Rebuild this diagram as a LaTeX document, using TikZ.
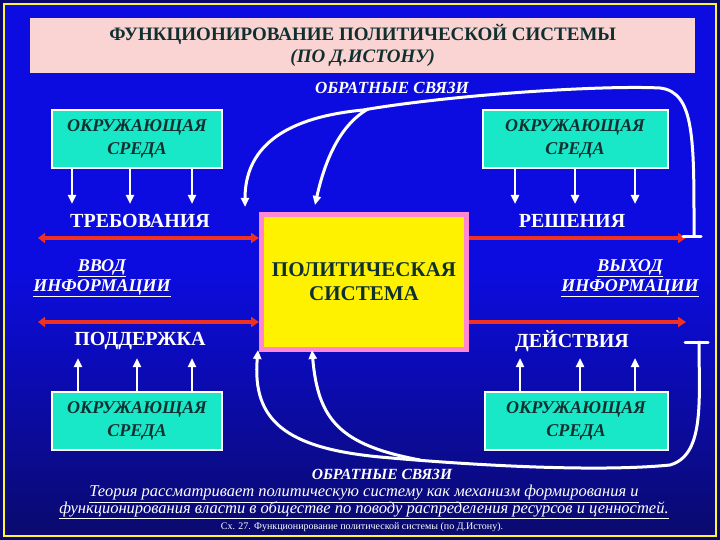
\documentclass[tikz,border=0pt]{standalone}
\usepackage{fontspec}
\setmainfont{Liberation Serif}
\usetikzlibrary{arrows.meta}
\definecolor{navy}{HTML}{0A0A6E}
\definecolor{mblue}{HTML}{0C0CE0}
\definecolor{pinkbg}{HTML}{FAD3D3}
\definecolor{cyanbox}{HTML}{19E8C8}
\definecolor{redl}{HTML}{F03020}
\definecolor{dtext}{HTML}{103030}
\begin{document}
\begin{tikzpicture}[x=1pt,y=-1pt,
 envbox/.style={draw=white,line width=2pt,fill=cyanbox,minimum width=170pt,minimum height=58pt,align=center,font=\bfseries\itshape\fontsize{18}{23}\selectfont,text=dtext},
 wlab/.style={text=white,font=\bfseries\fontsize{20}{22}\selectfont},
 ulab/.style={text=white,font=\bfseries\itshape\fontsize{18}{20}\selectfont,align=center},
 warr/.style={white,line width=2.5pt,-{Triangle[length=9pt,width=8pt]}},
 rarr/.style={redl,line width=4pt,-{Triangle[length=8pt,width=10pt]}},
 fb/.style={white,line width=3pt,line cap=round},
 thl/.style={text=white,inner sep=0pt,font=\itshape\fontsize{16.5}{17}\selectfont}]
\useasboundingbox (0,0) rectangle (720,540);
\fill[navy] (0,0) rectangle (720,540);
\shade[top color=mblue,bottom color=navy,middle color=mblue] (5,5) rectangle (715,535);
\draw[yellow!80!white,line width=1.2pt] (4,4) rectangle (716,536);
% title
\node[fill=pinkbg,minimum width=665pt,minimum height=55pt,anchor=north west,inner sep=0pt,align=center,text=dtext,font=\bfseries\fontsize{19}{22}\selectfont] (title) at (30,18) {ФУНКЦИОНИРОВАНИЕ ПОЛИТИЧЕСКОЙ СИСТЕМЫ\\ \itshape (ПО Д.ИСТОНУ)};
\node[ulab,font=\bfseries\itshape\fontsize{17}{19}\selectfont] (fb1) at (392,88) {ОБРАТНЫЕ СВЯЗИ};
% env boxes
\node[envbox] (e1) at (137,139) {ОКРУЖАЮЩАЯ\\СРЕДА};
\node[envbox,minimum width=185pt] (e2) at (575,139) {ОКРУЖАЮЩАЯ\\СРЕДА};
\node[envbox] (e3) at (137,421) {ОКРУЖАЮЩАЯ\\СРЕДА};
\node[envbox,minimum width=183pt] (e4) at (576,421) {ОКРУЖАЮЩАЯ\\СРЕДА};
% system
\node[draw=pink!70!magenta,line width=5pt,fill=yellow,minimum width=205pt,minimum height=135pt,align=center,text=dtext,font=\bfseries\fontsize{21}{24}\selectfont] (sys) at (364,282) {ПОЛИТИЧЕСКАЯ\\СИСТЕМА};
% labels
\node[wlab] (treb) at (140,221) {ТРЕБОВАНИЯ};
\node[wlab] (resh) at (572,221) {РЕШЕНИЯ};
\node[wlab] (podd) at (140,341) {ПОДДЕРЖКА};
\node[wlab] (deist) at (572,341) {ДЕЙСТВИЯ};
\node[ulab] (vvod) at (102,278) {\underline{ВВОД}\\\underline{ИНФОРМАЦИИ}};
\node[ulab] (vyh) at (630,278) {\underline{ВЫХОД}\\\underline{ИНФОРМАЦИИ}};
% env arrows
\foreach \x/\n in {72/a,130/b,192/c}{\coordinate (t\n) at (\x,168); \coordinate (u\n) at (\x,204); \draw[warr] (t\n) -- (u\n);}
\foreach \x/\n in {515/a,575/b,635/c}{\coordinate (t\n) at (\x,168); \coordinate (u\n) at (\x,204); \draw[warr] (t\n) -- (u\n);}
\foreach \x/\n in {78/a,137/b,192/c}{\coordinate (t\n) at (\x,392); \coordinate (u\n) at (\x,358); \draw[warr] (t\n) -- (u\n);}
\foreach \x/\n in {520/a,580/b,635/c}{\coordinate (t\n) at (\x,392); \coordinate (u\n) at (\x,358); \draw[warr] (t\n) -- (u\n);}
% red arrows
\coordinate (l1) at (38,238); \coordinate (l2) at (38,322);
\coordinate (r1) at (686,238); \coordinate (r2) at (686,322);
\draw[rarr,{Triangle[length=7pt,width=10pt]}-{Triangle[length=8pt,width=10pt]}] (l1) -- (sys.west|-l1);
\draw[rarr,{Triangle[length=7pt,width=10pt]}-{Triangle[length=8pt,width=10pt]}] (l2) -- (sys.west|-l2);
\draw[rarr] (sys.east|-r1) -- (r1);
\draw[rarr] (sys.east|-r2) -- (r2);
% ticks
\coordinate (k1) at (683,236); \coordinate (k2) at (701,236);
\coordinate (k3) at (685,342); \coordinate (k4) at (708,342);
\draw[fb] (k1) -- (k2); \draw[fb] (k3) -- (k4);
% feedback curves top
\coordinate (f1) at (245,207); \coordinate (f2) at (315,205);
\draw[fb,{Triangle[length=9pt,width=8pt]}-] (f1) .. controls (245,150) and (280,118) .. (363,110) .. controls (450,95) and (600,85) .. (660,88) .. controls (695,92) and (694,140) .. (694,236);
\draw[fb,{Triangle[length=9pt,width=8pt]}-] (f2) .. controls (325,160) and (340,125) .. (368,109);
% bottom
\coordinate (g1) at (258,350); \coordinate (g2) at (312,350);
\draw[fb,{Triangle[length=9pt,width=8pt]}-] (g1) .. controls (252,420) and (285,448) .. (380,457) .. controls (480,466) and (600,472) .. (670,465) .. controls (705,455) and (699,400) .. (699,342);
\draw[fb,{Triangle[length=9pt,width=8pt]}-] (g2) .. controls (318,420) and (340,445) .. (420,460);
\node[ulab,inner sep=1pt,font=\bfseries\itshape\fontsize{15.5}{17}\selectfont] (fb2) at (382,474) {ОБРАТНЫЕ СВЯЗИ};
\node[thl] (th1) at (364,494) {\underline{Теория рассматривает политическую систему как механизм формирования и}};
\node[thl] (th2) at (364,510) {\underline{функционирования власти в обществе по поводу распределения ресурсов и ценностей.}};
\node[text=white,font=\fontsize{10}{11}\selectfont] (cap) at (362,527) {Сх. 27. Функционирование политической системы (по Д.Истону).};
\end{tikzpicture}
\end{document}
